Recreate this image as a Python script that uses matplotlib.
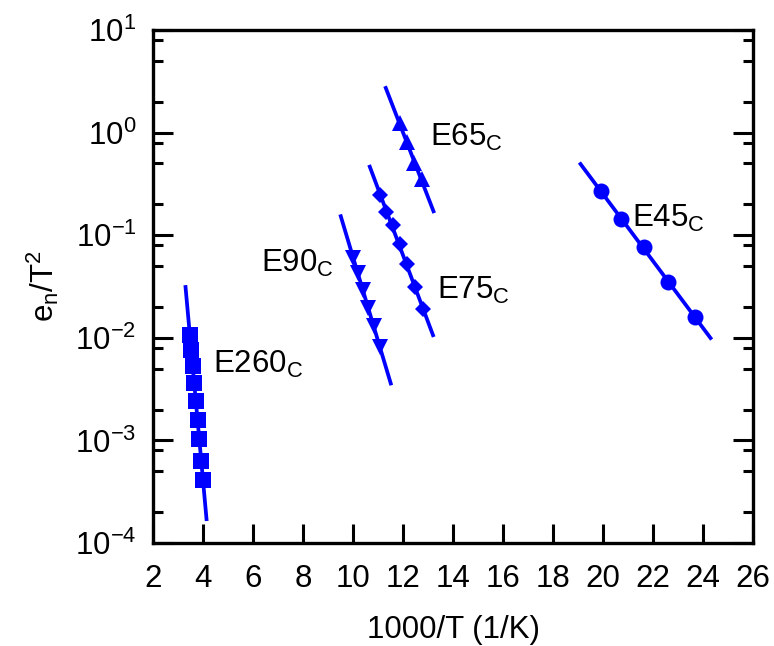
import matplotlib.pyplot as plt
import matplotlib.ticker as mticker
import numpy as np

plt.rcParams['font.family'] = ['Liberation Sans', 'DejaVu Sans']
plt.rcParams['mathtext.fontset'] = 'custom'
plt.rcParams['mathtext.rm'] = 'Liberation Sans'
plt.rcParams['mathtext.it'] = 'Liberation Sans:italic'
plt.rcParams['mathtext.bf'] = 'Liberation Sans:bold'
plt.rcParams['axes.unicode_minus'] = False

# data: 1000/T and e_n/T^2
x260 = [3.47, 3.52, 3.60, 3.64, 3.72, 3.80, 3.84, 3.92, 4.00]
y260 = [0.0107, 0.0076, 0.0053, 0.0036, 0.0024, 0.00158, 0.00103, 0.00063, 0.00041]

x90 = [10.0, 10.2, 10.4, 10.6, 10.83, 11.07]
y90 = [0.060, 0.043, 0.029, 0.0194, 0.0129, 0.0082]

x75 = [11.07, 11.31, 11.58, 11.87, 12.16, 12.47, 12.78]
y75 = [0.247, 0.170, 0.126, 0.082, 0.052, 0.031, 0.019]

x65 = [11.87, 12.14, 12.43, 12.75]
y65 = [1.24, 0.81, 0.51, 0.35]

x45 = [19.91, 20.71, 21.62, 22.60, 23.67]
y45 = [0.272, 0.144, 0.076, 0.035, 0.0161]

# range of each fitted line
fit_range = {
    'E260': (3.30, 4.14),
    'E90': (9.51, 11.51),
    'E75': (10.67, 13.20),
    'E65': (11.31, 13.22),
    'E45': (19.10, 24.30),
}

series = [
    ('E260', x260, y260, 's', 12),
    ('E90', x90, y90, 'v', 11),
    ('E75', x75, y75, 'D', 8.5),
    ('E65', x65, y65, '^', 11),
    ('E45', x45, y45, 'o', 11.5),
]

# label anchor (left, baseline)
labels = {
    'E260': (4.40, 0.0045),
    'E90': (6.30, 0.044),
    'E75': (13.35, 0.024),
    'E65': (13.07, 0.75),
    'E45': (21.15, 0.12),
}

blue = '#0000ff'
fs = 22.5

fig = plt.figure(figsize=(7.74, 6.46), dpi=100)
ax = fig.add_axes([0.1977, 0.1594, 0.9729 - 0.1977, 0.9536 - 0.1594])

for name, xs, ys, mk, ms in series:
    xs = np.array(xs)
    ys = np.array(ys)
    k, b = np.polyfit(xs, np.log10(ys), 1)
    xf = np.array(fit_range[name])
    ax.plot(xf, 10 ** (k * xf + b), color=blue, lw=2.7, zorder=2)
    ax.plot(xs, ys, linestyle='none', marker=mk, ms=ms, color=blue,
            markeredgewidth=0, zorder=3)
    lx, ly = labels[name]
    ax.text(lx, ly, r'$\mathregular{' + name + '_C}$', fontsize=fs,
            ha='left', va='baseline')

ax.set_yscale('log')
ax.set_xlim(2, 26)
ax.set_ylim(1e-4, 1e1)
ax.xaxis.set_major_locator(mticker.MultipleLocator(2))
ax.yaxis.set_major_locator(mticker.LogLocator(base=10, numticks=10))
ax.yaxis.set_minor_locator(mticker.LogLocator(base=10, subs=(2, 5, 8), numticks=10))
ax.yaxis.set_minor_formatter(mticker.NullFormatter())

for s in ax.spines.values():
    s.set_linewidth(2.4)

ax.tick_params(axis='x', which='major', direction='in', length=14, width=2.2,
               labelsize=fs, pad=15, top=False)
ax.tick_params(axis='y', which='major', direction='in', length=14.5, width=2.2,
               labelsize=fs, pad=12, right=True)
ax.tick_params(axis='y', which='minor', direction='in', length=7, width=2.2,
               right=True)

ax.set_xlabel('1000/T (1/K)', fontsize=fs, labelpad=15)
ax.set_ylabel(r'e$_\mathregular{n}$/T$^\mathregular{2}$', fontsize=fs, labelpad=10)

fig.savefig('out.png', dpi=100)
